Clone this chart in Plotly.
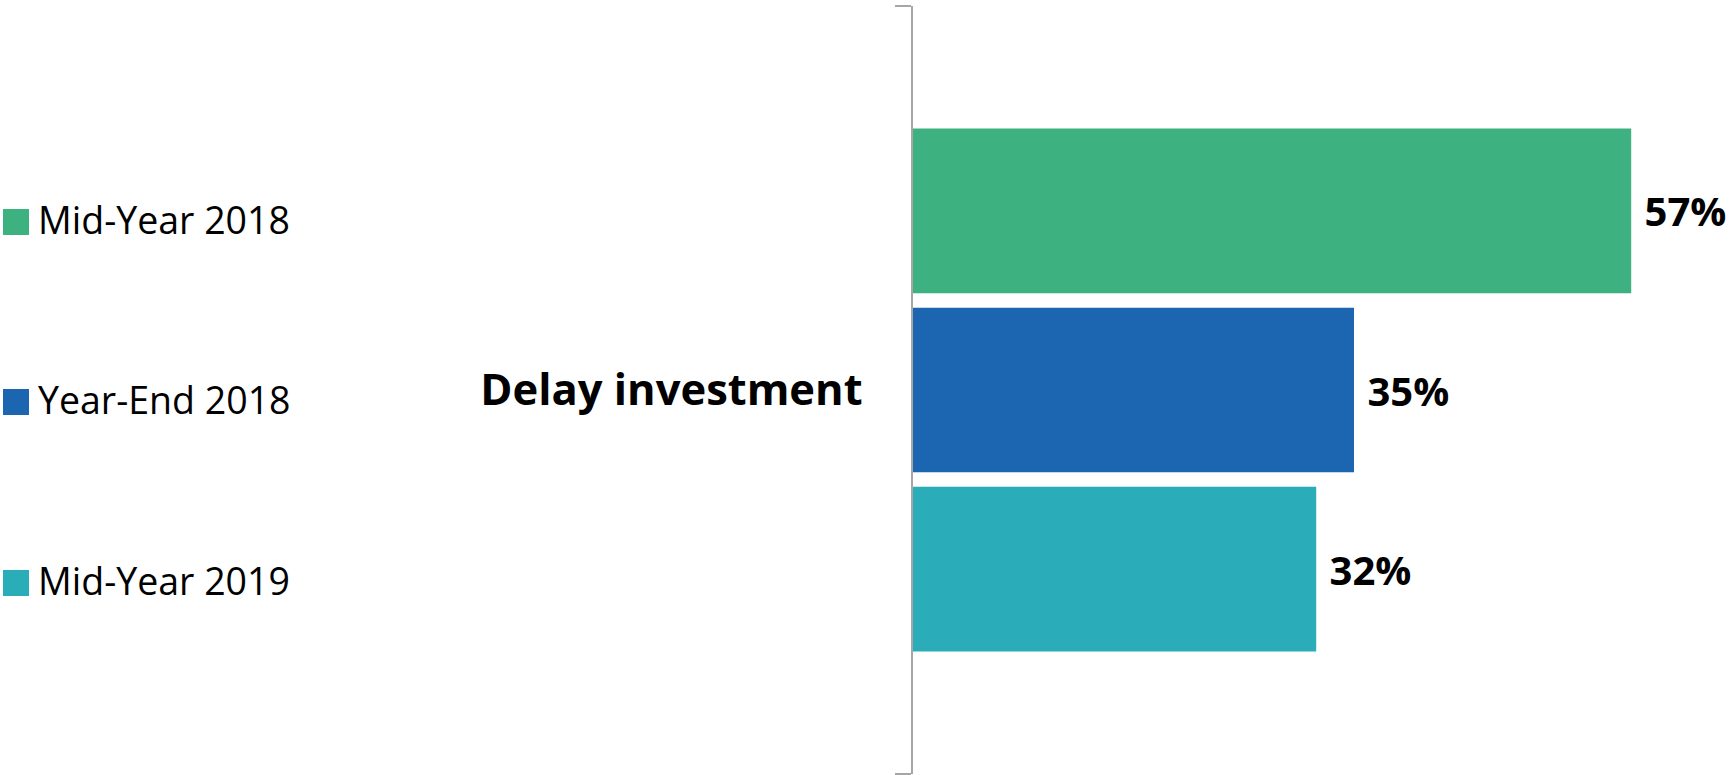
import plotly.graph_objects as go

# Survey responses: share of respondents planning to delay investment
categories = ["Delay investment"]
series_names = ["Mid-Year 2018", "Year-End 2018", "Mid-Year 2019"]
series_values = [[57], [35], [32]]
series_colors = ["#3EB180", "#1B65B1", "#2AADB9"]

W, H = 1734, 775
M_L, M_R, M_T, M_B = 913, 0, 6, 1
PLOT_W = W - M_L - M_R
PLOT_H = H - M_T - M_B

FONT = "Open Sans"

fig = go.Figure()
for name, vals, color in zip(series_names, series_values, series_colors):
    fig.add_trace(go.Bar(
        y=categories,
        x=vals,
        name=name,
        orientation="h",
        marker=dict(color=color, line=dict(width=0)),
        text=vals,
        texttemplate="\u00a0%{x}%",
        textposition="outside",
        textfont=dict(family=FONT, size=40, color="black", weight="bold"),
        cliponaxis=False,
        showlegend=False,
    ))


def px_x(px):
    return (px - M_L) / PLOT_W


def px_y(py):
    return 1 - (py - M_T) / PLOT_H


# Legend: colour squares with labels, stacked down the left edge
legend_centers = [222, 402, 583]
shapes = []
annotations = []
for name, color, cy in zip(series_names, series_colors, legend_centers):
    shapes.append(dict(
        type="rect", xref="paper", yref="paper",
        x0=px_x(3), x1=px_x(29), y0=px_y(cy + 13), y1=px_y(cy - 13),
        fillcolor=color, line=dict(width=0),
    ))
    annotations.append(dict(
        xref="paper", yref="paper", x=px_x(36), y=px_y(cy - 3),
        xanchor="left", yanchor="middle", showarrow=False,
        text=name, font=dict(family=FONT, size=37.5, color="black"),
    ))

fig.update_layout(
    width=W, height=H,
    margin=dict(l=M_L, r=M_R, t=M_T, b=M_B, pad=0),
    paper_bgcolor="white", plot_bgcolor="white",
    barmode="group", bargap=0.3, bargroupgap=0.081,
    showlegend=False,
    shapes=shapes,
    annotations=annotations,
    xaxis=dict(range=[0, PLOT_W / 12.6], visible=False, fixedrange=True),
    yaxis=dict(
        autorange="reversed",
        showline=True, linecolor="#A6A6A6", linewidth=1.5,
        ticks="outside", tickson="boundaries", ticklen=16,
        tickcolor="#A6A6A6", tickwidth=1.5,
        ticklabelstandoff=40,
        tickfont=dict(family=FONT, size=43.5, color="black", weight="bold"),
        showgrid=False, zeroline=False, fixedrange=True,
    ),
)

fig.write_html("out.html")
